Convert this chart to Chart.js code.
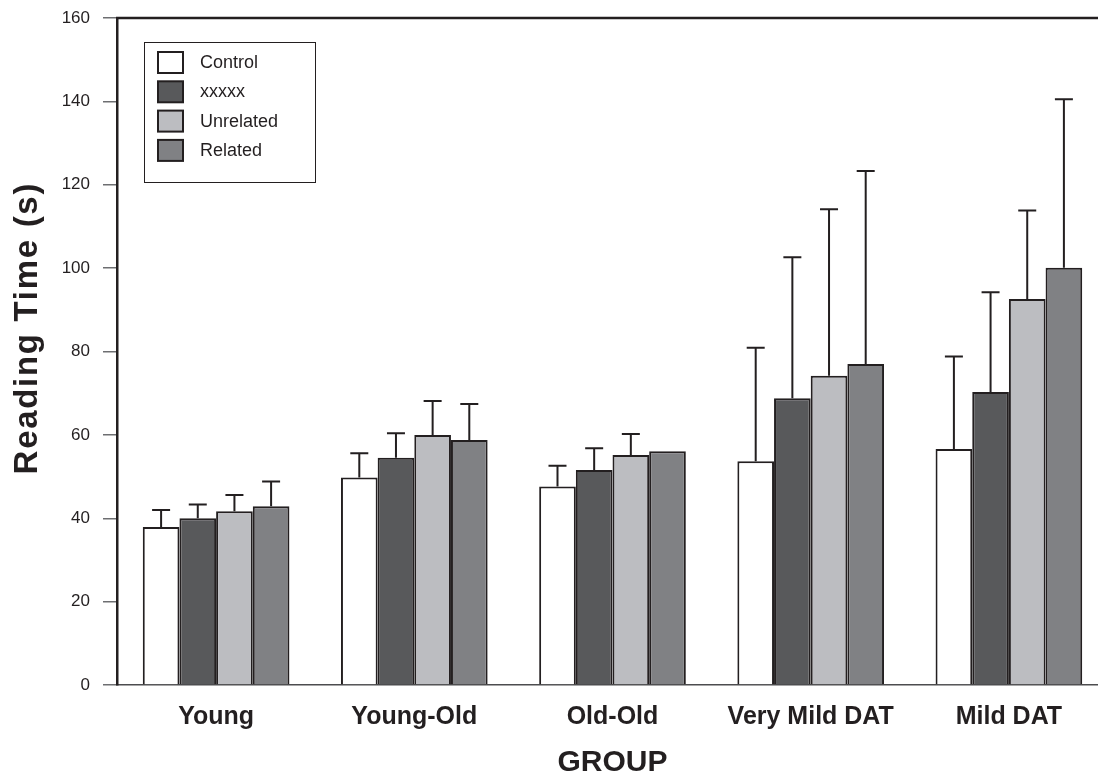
<!DOCTYPE html>
<html>
<head>
<meta charset="utf-8">
<script src="https://cdn.jsdelivr.net/npm/chart.js@4/dist/chart.umd.min.js"></script>
<style>
  html, body { margin: 0; padding: 0; background: #fff; overflow: hidden; }
  #wrap { position: relative; width: 1108px; height: 773px; }
</style>
</head>
<body>
<div id="wrap"><canvas id="chart"></canvas></div>
<script>
// reading time data
var groups = ['Young', 'Young-Old', 'Old-Old', 'Very Mild DAT', 'Mild DAT'];
var seriesNames = ['Control', 'xxxxx', 'Unrelated', 'Related'];

var control   = [37.9, 49.8, 47.6, 53.7, 56.6];
var xxxxx     = [40.0, 54.5, 51.6, 68.8, 70.3];
var unrelated = [41.7, 60.0, 55.2, 74.2, 92.6];
var related   = [42.9, 58.8, 56.1, 77.0, 100.1];

// upper error bar lengths
var controlErr   = [4.1, 5.8, 5.0, 27.2, 22.2];
var xxxxxErr     = [3.3, 5.9, 5.2, 33.8, 23.9];
var unrelatedErr = [3.9, 8.1, 5.0, 39.9, 21.2];
var relatedErr   = [5.9, 8.6, 0, 46.3, 40.4];

var yTicks = [0, 20, 40, 60, 80, 100, 120, 140, 160];
var yTitle = 'Reading Time (s)';

var fills = ['#ffffff', '#58595b', '#bcbdc1', '#808184'];
var ink = '#231f20';
var font = '"Liberation Sans", Arial, sans-serif';

var errorBars = {
    id: 'errorBars',
    afterDatasetsDraw: function(chart){
        var ctx = chart.ctx;
        var y = chart.scales.y;
        ctx.save();
        ctx.strokeStyle = ink;
        ctx.lineWidth = 2;
        chart.data.datasets.forEach(function(ds, i){
            var meta = chart.getDatasetMeta(i);
            meta.data.forEach(function(bar, j){
                var e = ds.err[j];
                if(!e) return;
                var top = y.getPixelForValue(ds.data[j] + e);
                ctx.beginPath();
                ctx.moveTo(bar.x, bar.y);
                ctx.lineTo(bar.x, top);
                ctx.moveTo(bar.x - 9, top);
                ctx.lineTo(bar.x + 9, top);
                ctx.stroke();
            });
        });
        ctx.restore();
    }
};

var frameAndLegend = {
    id: 'frameAndLegend',
    afterDraw: function(chart){
        var ctx = chart.ctx;
        var a = chart.chartArea;
        ctx.save();
        // top frame line
        ctx.strokeStyle = ink;
        ctx.lineWidth = 2.5;
        ctx.beginPath();
        ctx.moveTo(a.left - 1, a.top);
        ctx.lineTo(a.right, a.top);
        ctx.stroke();

        // y title, drawn by hand (a bit above centre, wide spacing)
        ctx.save();
        ctx.translate(28, a.top + (a.bottom - a.top) * 0.465);
        ctx.rotate(-Math.PI / 2);
        ctx.font = 'bold 33px ' + font;
        ctx.letterSpacing = '1.7px';
        ctx.fillStyle = ink;
        ctx.textAlign = 'center';
        ctx.textBaseline = 'middle';
        ctx.fillText(yTitle, 0, 0);
        ctx.restore();

        // legend box
        var bx = a.left + 27, by = a.top + 24;
        ctx.lineWidth = 1;
        ctx.strokeRect(bx + 0.5, by + 0.5, 171, 140);
        ctx.font = '18px ' + font;
        ctx.textBaseline = 'middle';
        chart.data.datasets.forEach(function(ds, i){
            var sy = by + 10 + i * 29.3;
            ctx.fillStyle = ds.backgroundColor;
            ctx.fillRect(bx + 14, sy, 25, 21);
            ctx.lineWidth = 2;
            ctx.strokeStyle = ink;
            ctx.strokeRect(bx + 14, sy, 25, 21);
            ctx.fillStyle = ink;
            ctx.fillText(ds.label, bx + 56, sy + 11);
        });
        ctx.restore();
    }
};

var allData = [control, xxxxx, unrelated, related];
var allErr = [controlErr, xxxxxErr, unrelatedErr, relatedErr];

var datasets = seriesNames.map(function(name, i){
    return {
        label: name,
        data: allData[i],
        err: allErr[i],
        backgroundColor: fills[i],
        borderColor: ink,
        borderWidth: 2,
        borderSkipped: 'bottom',
        barPercentage: 1.0,
        categoryPercentage: 0.74
    };
});

new Chart(document.getElementById('chart'), {
    type: 'bar',
    data: { labels: groups, datasets: datasets },
    options: {
        responsive: true,
        maintainAspectRatio: false,
        animation: false,
        layout: { padding: { top: 18, right: 0, left: 0, bottom: 0 } },
        plugins: {
            legend: { display: false },
            tooltip: { enabled: false }
        },
        scales: {
            x: {
                grid: { display: false },
                border: { display: true, color: '#4d4d4f', width: 1.5 },
                ticks: {
                    color: ink,
                    padding: 9,
                    font: { family: font, size: 25, weight: 'bold' }
                },
                title: {
                    display: true,
                    text: 'GROUP',
                    color: ink,
                    padding: { top: 0, bottom: 0 },
                    font: { family: font, size: 30, weight: 'bold', lineHeight: 0.7 }
                },
                afterFit: function(scale){ scale.height = 88; }
            },
            y: {
                min: 0,
                max: 160,
                afterBuildTicks: function(scale){
                    scale.ticks = yTicks.map(function(v){ return { value: v }; });
                },
                grid: {
                    drawOnChartArea: false,
                    drawTicks: true,
                    tickLength: 14,
                    color: '#6d6e71',
                    lineWidth: 1.5
                },
                border: { display: true, color: ink, width: 2.5 },
                ticks: {
                    color: ink,
                    padding: 13,
                    font: { family: font, size: 17, lineHeight: 0.5 }
                },
                title: { display: false },
                afterFit: function(scale){ scale.width = 117; }
            }
        }
    },
    plugins: [errorBars, frameAndLegend]
});
</script>
</body>
</html>
